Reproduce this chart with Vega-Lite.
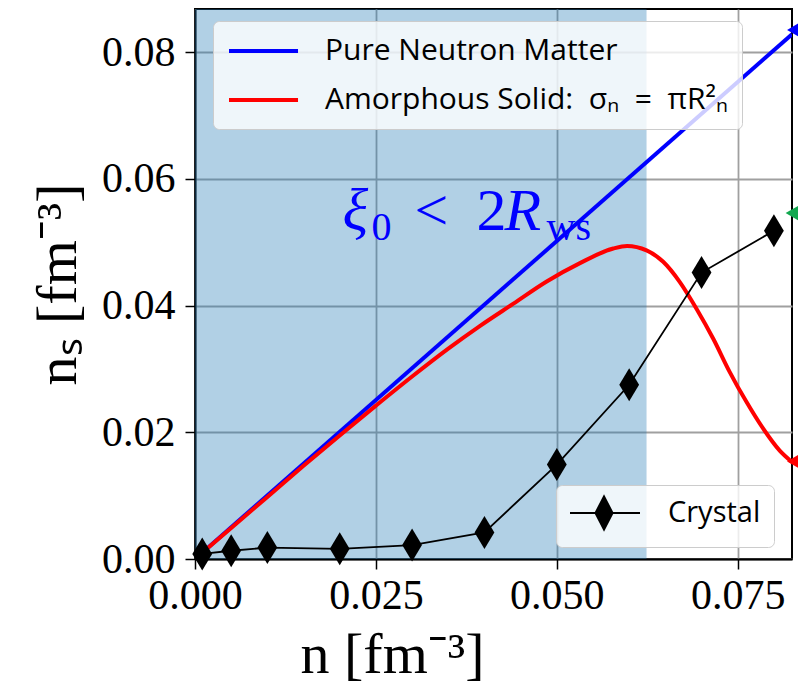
{
  "$schema": "https://vega.github.io/schema/vega-lite/v6.json",
  "width": 597,
  "height": 550,
  "autosize": {"type": "none"},
  "padding": {"left": 195, "top": 9, "right": 6, "bottom": 139},
  "background": "white",
  "config": {
    "view": {"stroke": "black", "strokeWidth": 2},
    "axis": {
      "labelFont": "Liberation Serif",
      "labelFontSize": 42,
      "labelColor": "black",
      "labelFlush": false,
      "labelOverlap": false,
      "titleFont": "Liberation Serif",
      "titleFontSize": 58,
      "titleFontWeight": "normal",
      "titleColor": "black",
      "domainColor": "black",
      "domainWidth": 2,
      "tickColor": "black",
      "tickWidth": 1.5,
      "tickSize": 10,
      "gridColor": "#a0a0a0",
      "gridWidth": 1.8
    }
  },
  "datasets": {
    "span": [{"start": 0, "end": 0.0624}],
    "pure": [
      {"n": 0.001, "ns": 0.001, "series": "Pure Neutron Matter"},
      {"n": 0.0825, "ns": 0.0828, "series": "Pure Neutron Matter"}
    ],
    "amorphous": [
      {"n": 0.001, "ns": 0.001},
      {"n": 0.005, "ns": 0.0049},
      {"n": 0.01, "ns": 0.0098},
      {"n": 0.015, "ns": 0.0147},
      {"n": 0.02, "ns": 0.0195},
      {"n": 0.025, "ns": 0.0242},
      {"n": 0.03, "ns": 0.0288},
      {"n": 0.035, "ns": 0.0332},
      {"n": 0.0394, "ns": 0.0368},
      {"n": 0.044, "ns": 0.0403},
      {"n": 0.0486, "ns": 0.0438},
      {"n": 0.0532, "ns": 0.0467},
      {"n": 0.0578, "ns": 0.049},
      {"n": 0.0597, "ns": 0.0494},
      {"n": 0.0624, "ns": 0.0487},
      {"n": 0.0647, "ns": 0.0469},
      {"n": 0.067, "ns": 0.0437},
      {"n": 0.0693, "ns": 0.0395},
      {"n": 0.0716, "ns": 0.0348},
      {"n": 0.0739, "ns": 0.0295},
      {"n": 0.0762, "ns": 0.0248},
      {"n": 0.0785, "ns": 0.0206},
      {"n": 0.0808, "ns": 0.0171},
      {"n": 0.0825, "ns": 0.0153}
    ],
    "crystal": [
      {"n": 0.001, "ns": 0.0008, "series": "Crystal"},
      {"n": 0.005, "ns": 0.0013, "series": "Crystal"},
      {"n": 0.01, "ns": 0.0018, "series": "Crystal"},
      {"n": 0.02, "ns": 0.0016, "series": "Crystal"},
      {"n": 0.03, "ns": 0.0022, "series": "Crystal"},
      {"n": 0.04, "ns": 0.0042, "series": "Crystal"},
      {"n": 0.05, "ns": 0.0149, "series": "Crystal"},
      {"n": 0.06, "ns": 0.0275, "series": "Crystal"},
      {"n": 0.07, "ns": 0.0452, "series": "Crystal"},
      {"n": 0.08, "ns": 0.0518, "series": "Crystal"}
    ],
    "edge": [
      {"n": 0.0834, "ns": 0.0835, "series": "pure"},
      {"n": 0.0832, "ns": 0.0546, "series": "other"},
      {"n": 0.0834, "ns": 0.0154, "series": "amorphous"}
    ],
    "annoItalic": [
      {"n": 0.02038, "ns": 0.0519, "label": "ξ"},
      {"n": 0.04277, "ns": 0.0519, "label": "R"}
    ],
    "annoUpright": [
      {"n": 0.03033, "ns": 0.0519, "label": "<"},
      {"n": 0.0389, "ns": 0.0519, "label": "2"}
    ],
    "annoSmall": [
      {"n": 0.02439, "ns": 0.0503, "label": "0"},
      {"n": 0.04858, "ns": 0.0503, "label": "ws"}
    ]
  },
  "encoding": {
    "x": {
      "field": "n",
      "type": "quantitative",
      "scale": {"domain": [0, 0.0825], "nice": false, "zero": false},
      "axis": {
        "values": [0, 0.025, 0.05, 0.075],
        "format": ".3f",
        "labelPadding": 6,
        "title": "n [fm⁻³]",
        "titlePadding": 10,
        "titleX": 197,
        "titleAlign": "center",
        "grid": true
      }
    },
    "y": {
      "field": "ns",
      "type": "quantitative",
      "scale": {"domain": [0, 0.0868], "nice": false, "zero": false},
      "axis": {
        "values": [0, 0.02, 0.04, 0.06, 0.08],
        "format": ".2f",
        "labelPadding": 10,
        "title": "nₛ [fm⁻³]",
        "titlePadding": 14,
        "grid": true
      }
    }
  },
  "layer": [
    {
      "data": {"name": "span"},
      "mark": {"type": "rect", "color": "#1f77b4", "opacity": 0.35},
      "encoding": {
        "x": {"field": "start", "type": "quantitative"},
        "x2": {"field": "end"},
        "y": null
      }
    },
    {
      "data": {"name": "pure"},
      "mark": {"type": "line", "strokeWidth": 4, "clip": true},
      "encoding": {
        "color": {
          "field": "series",
          "type": "nominal",
          "scale": {"domain": ["Pure Neutron Matter", "Amorphous Solid:\u00a0 σₙ\u00a0 =\u00a0 πR²ₙ\u00a0\u00a0"], "range": ["#0000ff", "#ff0000"]},
          "legend": {
            "orient": "none",
            "legendX": 18,
            "legendY": 12,
            "title": null,
            "labelFont": "Open Sans",
            "labelFontSize": 30,
            "labelColor": "black",
            "labelOffset": 66,
            "labelLimit": 600,
            "rowPadding": 18,
            "padding": 14,
            "fillColor": "rgba(255,255,255,0.8)",
            "strokeColor": "#cccccc",
            "cornerRadius": 6,
            "symbolType": "M-1,0L3.93,0",
            "symbolSize": 784,
            "symbolStrokeWidth": 4,
            "encode": {
              "symbols": {
                "update": {
                  "shape": {"value": "M-1,0L3.93,0"},
                  "size": {"value": 784},
                  "strokeWidth": {"value": 4},
                  "fill": {"value": "transparent"}
                }
              }
            }
          }
        }
      }
    },
    {
      "data": {"name": "amorphous"},
      "mark": {"type": "line", "strokeWidth": 4, "color": "#ff0000", "interpolate": "monotone", "clip": true},
      "encoding": {}
    },
    {
      "data": {"name": "crystal"},
      "mark": {"type": "line", "strokeWidth": 1.8},
      "encoding": {
        "color": {
          "field": "series",
          "type": "nominal",
          "scale": {"domain": ["Crystal"], "range": ["black"]},
          "legend": {
            "orient": "none",
            "legendX": 361,
            "legendY": 476,
            "title": null,
            "symbolType": "M-1,0L4,0M1.43,-1.18L2.04,0L1.43,1.18L0.82,0Z",
            "symbolSize": 784,
            "symbolStrokeWidth": 2,
            "symbolFillColor": "black",
            "symbolStrokeColor": "black",
            "labelFont": "Open Sans",
            "labelFontSize": 29,
            "labelColor": "black",
            "labelOffset": 69,
            "padding": 13,
            "fillColor": "rgba(255,255,255,0.8)",
            "strokeColor": "#cccccc",
            "cornerRadius": 6,
            "encode": {
              "symbols": {
                "update": {
                  "fill": {"value": "black"},
                  "stroke": {"value": "black"},
                  "shape": {"value": "M-1,0L4,0M1.43,-1.18L2.04,0L1.43,1.18L0.82,0Z"},
                  "size": {"value": 784},
                  "strokeWidth": {"value": 2}
                }
              }
            }
          }
        }
      }
    },
    {
      "data": {"name": "crystal"},
      "mark": {"type": "point", "shape": "M0,-1L0.6,0L0,1L-0.6,0Z", "filled": true, "color": "black", "size": 1089, "opacity": 1},
      "encoding": {}
    },
    {
      "data": {"name": "edge"},
      "mark": {"type": "point", "shape": "triangle-left", "filled": true, "size": 700, "opacity": 1},
      "encoding": {
        "fill": {
          "field": "series",
          "type": "nominal",
          "scale": {"domain": ["pure", "other", "amorphous"], "range": ["#0000ff", "#12a84f", "#ff0000"]},
          "legend": null
        }
      }
    },
    {
      "data": {"name": "annoItalic"},
      "mark": {"type": "text", "font": "Liberation Serif", "fontStyle": "italic", "fontSize": 60, "color": "#0000ff", "align": "left", "baseline": "alphabetic"},
      "encoding": {"text": {"field": "label"}}
    },
    {
      "data": {"name": "annoUpright"},
      "mark": {"type": "text", "font": "Liberation Serif", "fontSize": 60, "color": "#0000ff", "align": "left", "baseline": "alphabetic"},
      "encoding": {"text": {"field": "label"}}
    },
    {
      "data": {"name": "annoSmall"},
      "mark": {"type": "text", "font": "Liberation Serif", "fontSize": 40, "color": "#0000ff", "align": "left", "baseline": "alphabetic"},
      "encoding": {"text": {"field": "label"}}
    }
  ],
  "resolve": {"scale": {"color": "independent", "fill": "independent"}}
}
